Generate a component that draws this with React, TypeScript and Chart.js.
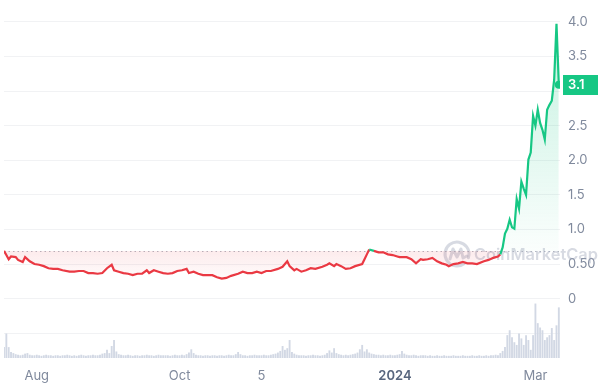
import React, { useEffect, useRef } from 'react';
import { Chart, registerables } from 'chart.js';

Chart.register(...registerables);

// Day offsets counted from 18 Jul 2023
const priceDays = [
  0, 1, 2, 3, 5, 6, 8, 9, 11, 13, 15, 17, 19, 21, 23, 25, 28, 30, 32, 34, 36, 38, 40, 42,
  44, 46, 47, 49, 51, 53, 55, 57, 59, 61, 62, 64, 66, 68, 70, 72, 74, 76, 78, 79, 81, 83,
  85, 87, 89, 91, 93, 95, 97, 100, 102, 104, 106, 108, 110, 112, 114, 117, 119, 120, 121,
  122, 124, 125, 127, 129, 131, 133, 136, 138, 139, 141, 142, 144, 146, 148, 150, 153, 154,
  155, 156, 158, 160, 162, 164, 166, 168, 169, 172, 174, 176, 178, 179, 181, 183, 185, 187,
  189, 190, 192, 194, 196, 198, 200, 202, 205, 207, 209, 211, 212,
  213, 214, 215, 216, 217, 218, 219, 220, 221, 222, 223, 224, 225, 226, 227, 228, 229, 230,
  231, 232, 233, 234, 235, 236, 237,
];

const prices = [
  0.69, 0.63, 0.57, 0.61, 0.60, 0.56, 0.53, 0.60, 0.54, 0.50, 0.49, 0.47, 0.44, 0.43, 0.43,
  0.41, 0.39, 0.39, 0.40, 0.40, 0.37, 0.37, 0.36, 0.37,
  0.44, 0.49, 0.41, 0.39, 0.37, 0.36, 0.34, 0.36, 0.36, 0.41, 0.37, 0.41, 0.39, 0.37, 0.36,
  0.37, 0.40, 0.41, 0.43, 0.37, 0.39, 0.36,
  0.34, 0.34, 0.34, 0.31, 0.29, 0.30, 0.33, 0.36, 0.39, 0.37, 0.37, 0.39, 0.37, 0.40, 0.40,
  0.43, 0.46, 0.50, 0.54,
  0.47, 0.41, 0.43, 0.39, 0.41, 0.44, 0.43, 0.46, 0.49, 0.51, 0.47, 0.50, 0.47, 0.43, 0.44,
  0.47, 0.50, 0.57,
  0.64, 0.71, 0.69, 0.67, 0.67, 0.64, 0.63, 0.61, 0.60, 0.60, 0.57, 0.51, 0.57, 0.56, 0.57,
  0.59, 0.54, 0.51,
  0.49, 0.47, 0.50, 0.51, 0.53, 0.51, 0.51, 0.50, 0.54, 0.56, 0.59, 0.61, 0.64,
  0.74, 0.94, 1.01, 1.14, 1.03, 1.01, 1.44, 1.30, 1.69, 1.59, 1.50, 2.01, 2.11, 2.64, 2.50,
  2.73, 2.54, 2.44, 2.30, 2.73, 2.80, 2.86, 3.16, 3.97, 3.09,
];

// Daily volume (relative units), day 0 .. 237
const volumes = [
  20, 45, 20, 11, 9, 7, 6, 5, 6, 8,
  9, 6, 5, 5, 6, 5, 4, 5, 6, 5,
  5, 4, 5, 5, 4, 5, 5, 6, 5, 4,
  5, 4, 5, 6, 5, 4, 5, 5, 6, 5,
  5, 6, 8, 9, 15, 9, 22, 33, 12, 7,
  6, 5, 5, 6, 5, 4, 5, 5, 4, 5,
  5, 6, 5, 5, 4, 5, 6, 5, 5, 5,
  5, 4, 5, 6, 5, 5, 6, 5, 7, 10,
  16, 9, 6, 5, 5, 4, 5, 5, 4, 5,
  5, 4, 5, 5, 4, 5, 6, 5, 5, 7,
  11, 7, 5, 5, 4, 5, 5, 6, 5, 5,
  5, 6, 5, 5, 6, 7, 8, 10, 13, 22,
  15, 18, 33, 11, 8, 6, 5, 5, 5, 4,
  5, 5, 6, 5, 5, 4, 5, 6, 9, 14,
  10, 18, 9, 7, 6, 5, 6, 5, 6, 7,
  8, 10, 16, 24, 12, 16, 10, 8, 7, 6,
  6, 5, 6, 5, 5, 6, 5, 5, 6, 7,
  13, 8, 6, 5, 5, 6, 5, 4, 5, 5,
  5, 4, 5, 4, 4, 5, 4, 4, 5, 4,
  4, 4, 5, 4, 4, 4, 5, 4, 4, 4,
  5, 4, 4, 5, 4, 4, 5, 4, 5, 5,
  6, 5, 9, 13, 20, 42, 51, 38, 29, 24,
  45, 36, 24, 42, 33, 15, 42, 100, 64, 56,
  51, 33, 38, 42, 55, 33, 60, 93,
];

const xTickDays = [14, 75, 110, 167, 227];
const xTickLabels = ['Aug', 'Oct', '5', '2024', 'Mar'];
const yTickValues = [-0.5, 0, 0.5, 1, 1.5, 2, 2.5, 3, 3.5, 4];
const yTickLabels = ['', '0', '0.50', '1.0', '1.5', '2.0', '2.5', '', '3.5', '4.0'];

const GREEN = '#16c784';
const RED = '#ea3943';
const Y_MIN = -0.857;
const Y_MAX = 4.257;
const X_MAX = 237.5;
const W = 600;
const H = 384;
const X_AXIS_H = 26;
const Y_AXIS_W = 40;

export default function App() {
  const ref = useRef<HTMLCanvasElement | null>(null);

  useEffect(() => {
    document.body.style.margin = '0';
    const canvas = ref.current;
    if (!canvas) return;
    const c2d = canvas.getContext('2d')!;
    const baseline = prices[0];
    const areaBottom = H - X_AXIS_H;
    const yPix = (v: number) => ((Y_MAX - v) / (Y_MAX - Y_MIN)) * areaBottom;
    const basePix = yPix(baseline);

    const gGreen = c2d.createLinearGradient(0, yPix(4), 0, basePix);
    gGreen.addColorStop(0, 'rgba(22,199,132,0.26)');
    gGreen.addColorStop(1, 'rgba(22,199,132,0.02)');
    const gRed = c2d.createLinearGradient(0, basePix, 0, basePix + 32);
    gRed.addColorStop(0, 'rgba(234,57,67,0.10)');
    gRed.addColorStop(1, 'rgba(234,57,67,0.01)');

    const decor = {
      id: 'decor',
      beforeDatasetsDraw(chart: any) {
        const { ctx, chartArea, scales } = chart;
        const y = Math.round(scales.y.getPixelForValue(baseline)) + 0.5;
        ctx.save();
        ctx.setLineDash([1.5, 3]);
        ctx.strokeStyle = '#b4b9c3';
        ctx.lineWidth = 1;
        ctx.beginPath();
        ctx.moveTo(chartArea.left, y);
        ctx.lineTo(chartArea.right, y);
        ctx.stroke();
        ctx.restore();

        // watermark
        ctx.save();
        const wmColor = 'rgba(160,168,186,0.42)';
        const cx = 457;
        const cy = 254;
        const r = 12;
        ctx.strokeStyle = wmColor;
        ctx.lineWidth = 3;
        ctx.lineCap = 'round';
        ctx.lineJoin = 'round';
        ctx.beginPath();
        ctx.arc(cx, cy, r, 0.3 * Math.PI, 2.1 * Math.PI, false);
        ctx.stroke();
        ctx.beginPath();
        ctx.moveTo(cx - 7, cy + 5);
        ctx.lineTo(cx - 4, cy - 5);
        ctx.lineTo(cx, cy + 3);
        ctx.lineTo(cx + 4, cy - 5);
        ctx.lineTo(cx + 6, cy + 4);
        ctx.lineTo(cx + 10, cy + 2);
        ctx.stroke();
        ctx.fillStyle = wmColor;
        let size = 20;
        ctx.font = `600 ${size}px Inter, sans-serif`;
        const wWidth = ctx.measureText('CoinMarketCap').width;
        size = (size * 124) / wWidth;
        ctx.font = `600 ${size}px Inter, sans-serif`;
        ctx.textBaseline = 'middle';
        ctx.textAlign = 'left';
        ctx.fillText('CoinMarketCap', 474, cy + 1);
        ctx.restore();
      },
      afterDraw(chart: any) {
        const { ctx, scales, chartArea } = chart;
        const last = prices[prices.length - 1];
        const y = scales.y.getPixelForValue(last);
        const x0 = chartArea.right + 3;
        ctx.save();
        ctx.fillStyle = GREEN;
        ctx.fillRect(x0, Math.round(y - 10), W - 2 - x0, 20);
        ctx.fillStyle = '#ffffff';
        ctx.font = '600 13px Inter, sans-serif';
        ctx.textBaseline = 'middle';
        ctx.textAlign = 'left';
        ctx.fillText(last.toFixed(1), chartArea.right + 8, Math.round(y) + 0.5);
        ctx.restore();
      },
    };

    const chart = new Chart(canvas, {
      type: 'line',
      data: {
        datasets: [
          {
            type: 'line',
            data: priceDays.map((d, i) => ({ x: d, y: prices[i] })),
            yAxisID: 'y',
            xAxisID: 'x',
            borderColor: RED,
            borderWidth: 2.2,
            tension: 0,
            pointRadius: (ctx: any) => (ctx.dataIndex === prices.length - 1 ? 4 : 0),
            pointBackgroundColor: GREEN,
            pointBorderWidth: 0,
            pointHoverRadius: 0,
            segment: {
              borderColor: (ctx: any) =>
                (ctx.p0.parsed.y + ctx.p1.parsed.y) / 2 >= baseline ? GREEN : RED,
            },
            fill: { target: { value: baseline }, above: gGreen, below: gRed },
            order: 1,
          } as any,
          {
            type: 'bar',
            data: volumes.map((v, i) => ({ x: i, y: v })),
            yAxisID: 'v',
            xAxisID: 'x',
            backgroundColor: '#d2d8e4',
            barPercentage: 0.8,
            categoryPercentage: 1,
            order: 2,
          } as any,
        ],
      },
      options: {
        animation: false,
        responsive: false,
        layout: { padding: 0 },
        plugins: {
          legend: { display: false },
          tooltip: { enabled: false },
        },
        scales: {
          x: {
            type: 'linear',
            min: 0,
            max: X_MAX,
            offset: false,
            afterBuildTicks: (s: any) => {
              s.ticks = xTickDays.map((v) => ({ value: v }));
            },
            afterFit: (s: any) => {
              s.height = X_AXIS_H;
              s.paddingLeft = 0;
              s.paddingRight = 0;
            },
            ticks: {
              autoSkip: false,
              maxRotation: 0,
              padding: 10,
              callback: (v: any) => {
                const i = xTickDays.indexOf(Number(v));
                return i >= 0 ? xTickLabels[i] : '';
              },
              color: (ctx: any) => (ctx.index === 3 ? '#58667e' : '#808a9d'),
              font: (ctx: any) => ({
                size: 13,
                family: 'Inter, sans-serif',
                weight: ctx.index === 3 ? '600' : '400',
              }),
            },
            grid: { display: false, drawTicks: false, offset: false },
            border: { display: false },
          } as any,
          y: {
            type: 'linear',
            position: 'right',
            min: Y_MIN,
            max: Y_MAX,
            afterBuildTicks: (s: any) => {
              s.ticks = yTickValues.map((v) => ({ value: v }));
            },
            afterFit: (s: any) => {
              s.width = Y_AXIS_W;
              s.paddingTop = 0;
              s.paddingBottom = 0;
            },
            ticks: {
              autoSkip: false,
              padding: 8,
              callback: (_v: any, i: number) => yTickLabels[i],
              color: '#808a9d',
              font: { size: 13, family: 'Inter, sans-serif' },
            },
            grid: { color: '#f1f2f4', drawTicks: false, lineWidth: 1 },
            border: { display: false },
          } as any,
          v: {
            type: 'linear',
            display: false,
            min: 0,
            max: 650,
          },
        },
      },
      plugins: [decor],
    });

    return () => chart.destroy();
  }, []);

  return (
    <div style={{ position: 'fixed', left: 0, top: 0, width: W, height: H, background: '#fff' }}>
      <canvas ref={ref} width={W} height={H} style={{ display: 'block', width: W, height: H }} />
    </div>
  );
}
